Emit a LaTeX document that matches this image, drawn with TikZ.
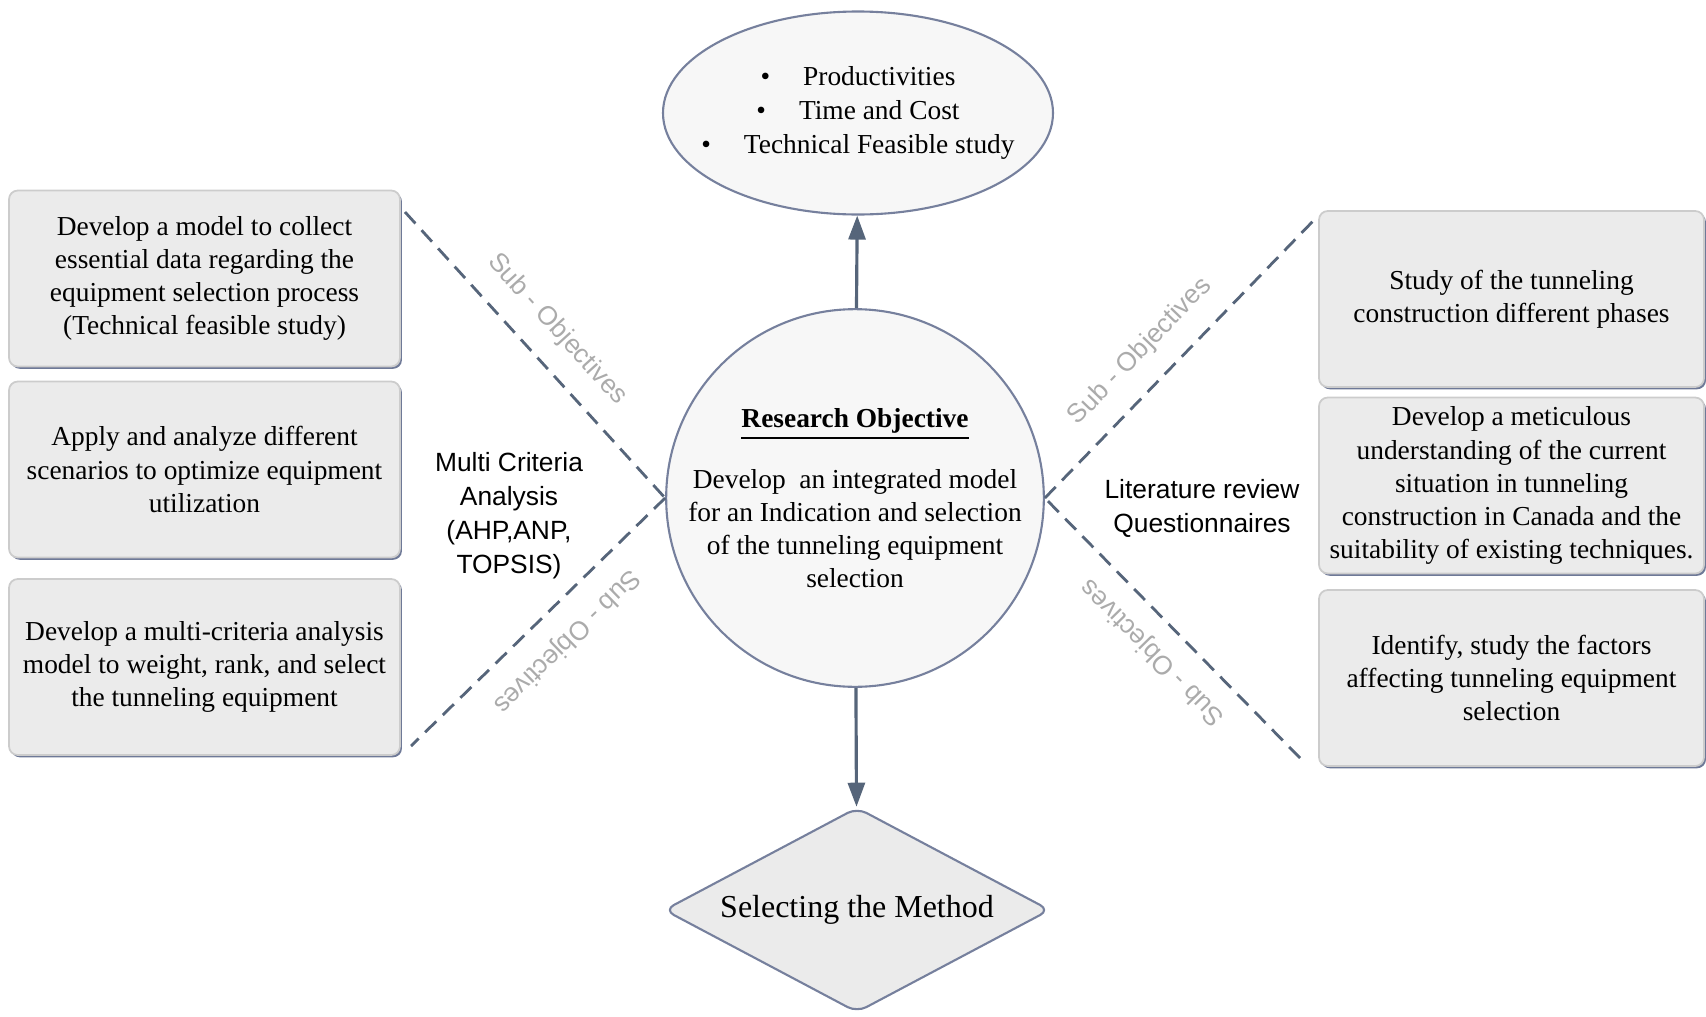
\documentclass[tikz,border=0pt]{standalone}
\usepackage{fontspec}
\setmainfont{Liberation Serif}
\newfontfamily\labelfont{Liberation Sans}
\usetikzlibrary{arrows.meta,positioning,calc,shapes.geometric,shadows}
\definecolor{edgeblue}{HTML}{5E6A8C}
\definecolor{linkslate}{HTML}{56657A}

\begin{document}
\begin{tikzpicture}[
  font=\fontsize{7.8}{9.4}\selectfont,
  objbox/.style={draw=black!20,line width=.5pt,rounded corners=2.5pt,fill=black!8,align=center,minimum width=3.88cm,minimum height=1.76cm,inner sep=2pt,drop shadow={shadow xshift=.55pt,shadow yshift=-.65pt,fill=edgeblue,opacity=.9}},
  goal/.style={circle,draw=edgeblue!85,line width=.6pt,fill=black!3,minimum size=3.74cm,inner sep=0pt,align=center},
  outcome/.style={ellipse,draw=edgeblue!85,line width=.6pt,fill=black!3,minimum width=3.9cm,minimum height=2.03cm,inner xsep=-.22cm,inner ysep=0pt,align=center,font=\fontsize{7.8}{9.6}\selectfont},
  method/.style={diamond,shape aspect=1.85,draw=edgeblue!85,line width=.6pt,fill=black!8,minimum width=3.86cm,minimum height=2.05cm,inner sep=0pt,rounded corners=3pt,font=\fontsize{9.1}{11}\selectfont},
  link/.style={-{Triangle[length=2.4mm,width=1.7mm]},draw=linkslate,line width=.9pt},
  subline/.style={draw=linkslate,line width=.8pt,dash pattern=on 4.4pt off 2.6pt},
  sublabel/.style={font=\labelfont\fontsize{7.5}{9}\selectfont,text=black!33,sloped,allow upside down},
  toollabel/.style={font=\labelfont\fontsize{7.5}{9.7}\selectfont,align=center}
]
\useasboundingbox (0,0) rectangle (17.06,-10.16);

\node[goal] (goal) at (8.55,-4.98) {\underline{\textbf{Research Objective}}\\[8pt]Develop~ an integrated model\\for an Indication and selection\\of the tunneling equipment\\selection};

\node[outcome] (outcome) at (8.58,-1.13) {\textbullet\hspace{.33cm}Productivities\\\textbullet\hspace{.33cm}Time and Cost\\\textbullet\hspace{.33cm}Technical Feasible study};
\node[method] (method) at (8.57,-9.10) {Selecting the Method};
\draw[link] (goal) -- (outcome);
\draw[link] (goal) -- (method);

\node[objbox,minimum width=3.91cm] (data) at (2.045,-2.785) {Develop a model to collect\\essential data regarding the\\equipment selection process\\(Technical feasible study)};
\node[objbox,minimum width=3.91cm] (scen) at (2.045,-4.695) {Apply and analyze different\\scenarios to optimize equipment\\utilization};
\node[objbox,minimum width=3.91cm] (mca) at (2.045,-6.67) {Develop a multi-criteria analysis\\model to weight, rank, and select\\the tunneling equipment};

\node[objbox,minimum width=3.85cm] (phases) at (15.115,-2.99) {Study of the tunneling\\construction different phases};
\node[objbox,minimum width=3.85cm] (canada) at (15.115,-4.855) {Develop a meticulous\\understanding of the current\\situation in tunneling\\construction in Canada and the\\suitability of existing techniques.};
\node[objbox,minimum width=3.85cm] (factors) at (15.115,-6.78) {Identify, study the factors\\affecting tunneling equipment\\selection};

\coordinate (lt) at (4.05,-2.12);
\coordinate (lb) at (4.11,-7.46);
\coordinate (rt) at (13.16,-2.18);
\coordinate (rb) at (13.00,-7.58);
\draw[subline] (lt) -- node[sublabel,above=2.3pt,pos=.49] {Sub - Objectives} (goal.west);
\draw[subline] (goal.west) -- node[sublabel,above=2.3pt,pos=.48] {Sub - Objectives} (lb);
\draw[subline] (goal.east) -- node[sublabel,above=2.3pt,pos=.44] {Sub - Objectives} (rt);
\draw[subline] (rb) -- node[sublabel,above=1.5pt,pos=.49] {Sub - Objectives} (goal.east);

\node[toollabel] (mcatools) at (5.09,-5.155) {Multi Criteria\\Analysis\\(AHP,ANP,\\TOPSIS)};
\node[toollabel] (littools) at (12.02,-5.085) {Literature review\\Questionnaires};
\end{tikzpicture}
\end{document}
